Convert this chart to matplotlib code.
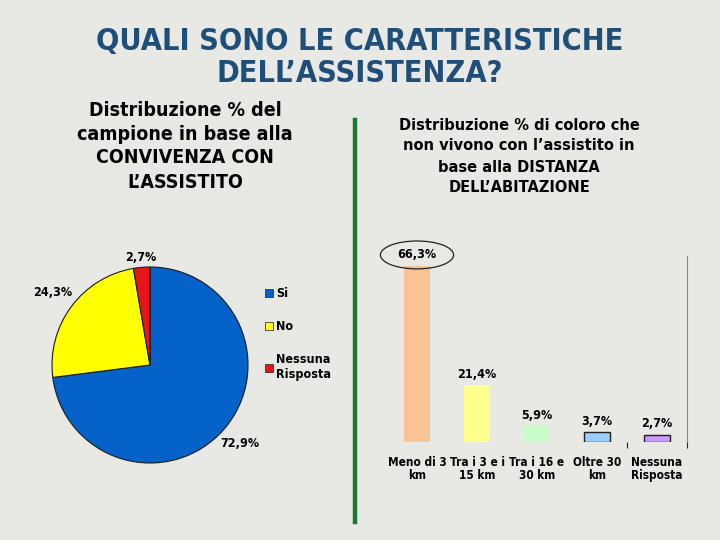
import numpy as np
import matplotlib
matplotlib.use("Agg")
import matplotlib.pyplot as plt
from matplotlib.patches import Ellipse

plt.rcParams['font.family'] = ['DejaVu Sans']
plt.rcParams['font.stretch'] = 'condensed'

# pie data
pie_labels = ['Si', 'No', 'Nessuna\nRisposta']
pie_values = [72.9, 24.3, 2.7]
pie_texts = ['72,9%', '24,3%', '2,7%']
pie_colors = ['#0562c8', '#ffff00', '#e8141c']

# bar data
bar_cats = ['Meno di 3\nkm', 'Tra i 3 e i\n15 km', 'Tra i 16 e\n30 km', 'Oltre 30\nkm', 'Nessuna\nRisposta']
bar_values = [66.3, 21.4, 5.9, 3.7, 2.7]
bar_texts = ['66,3%', '21,4%', '5,9%', '3,7%', '2,7%']
bar_colors = ['#fac394', '#ffff8c', '#c8fcc8', '#99ccff', '#cc99ff']
bar_edges = ['none', 'none', 'none', '#202020', '#202020']

bg = '#e8e8e5'

fig = plt.figure(figsize=(7.2, 5.4), dpi=100, facecolor=bg)

fig.text(0.5, 1 - 42/540, 'QUALI SONO LE CARATTERISTICHE', ha='center', va='center',
         fontsize=22, color='#1f4e79', fontweight='bold')
fig.text(0.5, 1 - 73/540, 'DELL\u2019ASSISTENZA?', ha='center', va='center',
         fontsize=22, color='#1f4e79', fontweight='bold')

left_sub = ['Distribuzione % del', 'campione in base alla', 'CONVIVENZA CON', 'L\u2019ASSISTITO']
for i, s in enumerate(left_sub):
    fig.text(185/720, 1 - (110 + 24*i)/540, s, ha='center', va='center',
             fontsize=14, fontweight='bold')
right_sub = ['Distribuzione % di coloro che', 'non vivono con l\u2019assistito in',
             'base alla DISTANZA', 'DELL\u2019ABITAZIONE']
for i, s in enumerate(right_sub):
    fig.text(519/720, 1 - (125 + 21*i)/540, s, ha='center', va='center',
             fontsize=11.7, fontweight='bold')

# green divider
fig.add_artist(plt.Line2D([355/720, 355/720], [1 - 120/540, 1 - 522/540],
                          color='#1a7a34', lw=3.2))

# pie
axp = fig.add_axes([52/720, 1 - 463/540, 196/720, 196/540])
wedges, _ = axp.pie(pie_values, colors=pie_colors, startangle=90, counterclock=False,
                    wedgeprops=dict(edgecolor='#1a1a1a', linewidth=0.8))
axp.set_xlim(-1.0, 1.0)
axp.set_ylim(-1.0, 1.0)
axp.set_aspect('equal')
dists = [1.22, 1.24, 1.10]
for w, t, d in zip(wedges, pie_texts, dists):
    ang = np.deg2rad((w.theta1 + w.theta2) / 2)
    axp.text(d*np.cos(ang), d*np.sin(ang), t, ha='center', va='center',
             fontsize=9, fontweight='bold', clip_on=False)
leg = axp.legend(wedges, pie_labels, loc='upper left', bbox_to_anchor=(1.03, 0.955),
                 frameon=False, handlelength=0.6, handleheight=0.6,
                 handletextpad=0.3, labelspacing=1.6, prop=dict(weight='bold', size=9))
for h in leg.legend_handles:
    h.set_linewidth(0.5)

# bars
axb = fig.add_axes([387/720, 1 - 442/540, 300/720, 186/540])
axb.set_facecolor('none')
x = np.arange(len(bar_values))
axb.bar(x, bar_values, width=0.42, color=bar_colors, edgecolor=bar_edges, linewidth=1.0)
axb.set_xlim(-0.5, 4.5)
axb.set_ylim(0, 70)
for s in ['top', 'left', 'bottom']:
    axb.spines[s].set_visible(False)
axb.spines['right'].set_color('#888888')
axb.spines['right'].set_linewidth(0.8)
axb.set_yticks([])
axb.set_xticks(x)
axb.set_xticklabels(bar_cats, fontsize=8.5, fontweight='bold', linespacing=1.0)
axb.tick_params(axis='x', length=0, pad=10)
axb.set_xticks([3.5, 4.5], minor=True)
axb.tick_params(axis='x', which='minor', length=4, width=0.8, direction='out', color='#222222')
for xi, v, t in zip(x, bar_values, bar_texts):
    axb.annotate(t, (xi, v), xytext=(0, 8), textcoords='offset points', ha='center',
                 va='center', fontsize=9, fontweight='bold', annotation_clip=False)
axb.add_patch(Ellipse((0, 70.4), 1.22, 10.5, fill=False, edgecolor='#222222',
                      linewidth=0.9, clip_on=False))

fig.savefig('out.png', dpi=100, facecolor=bg)
